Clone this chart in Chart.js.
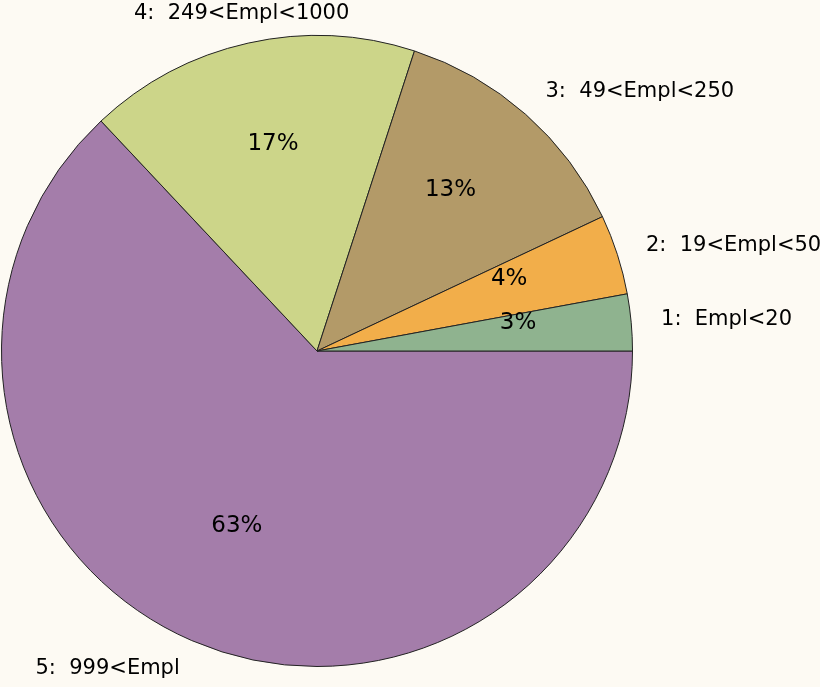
<!DOCTYPE html>
<html>
<head>
<meta charset="utf-8">
<script src="https://cdn.jsdelivr.net/npm/chart.js@4.4.0/dist/chart.umd.min.js"></script>
<style>
  html, body { margin: 0; padding: 0; background: #fdfaf3; }
  #wrap { width: 820px; height: 687px; }
</style>
</head>
<body>
<div id="wrap"><canvas id="pie"></canvas></div>
<script>
// categories and shares (percent)
const categories = ["1:  Empl<20", "2:  19<Empl<50", "3:  49<Empl<250", "4:  249<Empl<1000", "5:  999<Empl"];
const shares = [2.9, 4.1, 13, 17, 63];
const pctLabels = ["3%", "4%", "13%", "17%", "63%"];
const colors = ["#8fb38f", "#f2ae4a", "#b39a68", "#ccd589", "#a47daa"];

// the slices run counter-clockwise from 3 o'clock, chart.js goes clockwise -> reverse
const rev = (a) => a.slice().reverse();

const labelPlugin = {
    id: "pieLabels",
    afterDatasetsDraw(chart) {
        const ctx = chart.ctx;
        const meta = chart.getDatasetMeta(0);
        const n = categories.length;
        ctx.save();
        ctx.fillStyle = "#000";
        meta.data.forEach((arc, i) => {
            const k = n - 1 - i; // back to category order
            const p = arc.getProps(["x", "y", "startAngle", "endAngle", "outerRadius"], true);
            const mid = (p.startAngle + p.endAngle) / 2;
            const c = Math.cos(mid), s = Math.sin(mid);

            // percent inside
            const ri = p.outerRadius * 0.64;
            ctx.font = "23px 'DejaVu Sans'";
            ctx.textAlign = "center";
            ctx.textBaseline = "alphabetic";
            ctx.fillText(pctLabels[k], p.x + c * ri, p.y + s * ri - 4);

            // category outside
            const ro = p.outerRadius + 30;
            let align = "center";
            if (c > 0.3) align = "left";
            else if (c < -0.3) align = "right";
            ctx.font = "21px 'DejaVu Sans'";
            ctx.textAlign = align;
            ctx.textBaseline = "middle";
            ctx.fillText(categories[k], p.x + c * ro, p.y + s * ro);
        });
        ctx.restore();
    }
};

new Chart(document.getElementById("pie"), {
    type: "pie",
    data: {
        labels: rev(categories),
        datasets: [{
            data: rev(shares),
            backgroundColor: rev(colors),
            borderColor: "#222",
            borderWidth: 1
        }]
    },
    options: {
        responsive: true,
        maintainAspectRatio: false,
        animation: false,
        rotation: 90,
        layout: { padding: { left: 1, right: 187, top: 35, bottom: 20 } },
        plugins: {
            legend: { display: false },
            tooltip: { enabled: false }
        }
    },
    plugins: [labelPlugin]
});
</script>
</body>
</html>
